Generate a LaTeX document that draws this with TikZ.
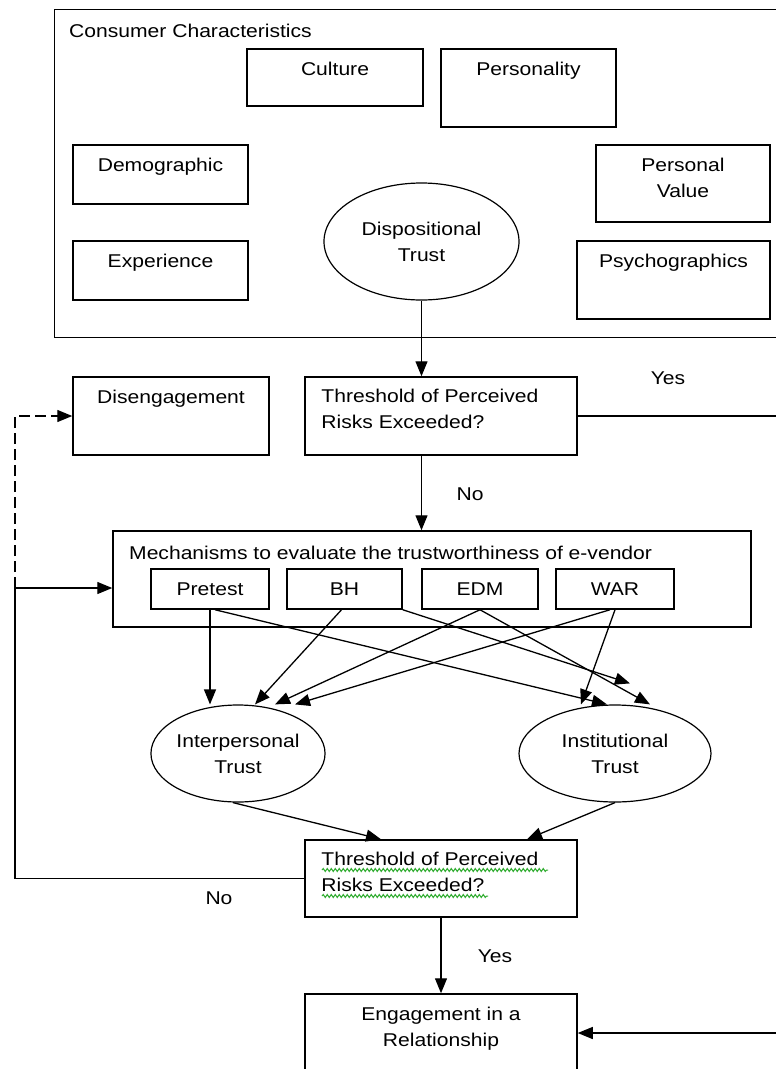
\documentclass[tikz,border=0pt]{standalone}
\usepackage{fontspec}
\setmainfont{Liberation Sans}[FakeStretch=1.14]
\usetikzlibrary{arrows.meta,shapes.geometric,decorations.pathmorphing}
\begin{document}
\begin{tikzpicture}[x=1pt,y=-1pt,
  font=\fontsize{18.5}{26}\selectfont,
  every node/.style={inner sep=0pt},
  box/.style={draw, line width=1.5pt, rectangle},
  oval/.style={draw, line width=1.2pt, ellipse},
  ttl/.style={label={[anchor=north,yshift=-14pt,align=center,inner sep=0pt]north:#1}},
  tip/.style={-{Triangle[length=15pt,width=12pt]}},
  arr/.style={line width=1.3pt, tip},
  wire/.style={line width=1.4pt},
  feedback/.style={line width=1.4pt, dash pattern=on 11pt off 5pt, tip},
  spell/.style={draw={rgb,1:red,0.2;green,0.68;blue,0.2}, line width=1pt, decorate,
    decoration={snake, amplitude=1.5pt, segment length=4pt}}
]
\useasboundingbox (0,0) rectangle (776,1069);

% consumer characteristics panel
\node[box, minimum width=735.5, minimum height=328.4] (cc) at (422.25,173.5) {};
\node[anchor=north west] (cctitle) at (69,24) {Consumer Characteristics};
\node[box, minimum width=176, minimum height=57, ttl=Culture] (cult) at (335,77.5) {};
\node[box, minimum width=175, minimum height=78, ttl=Personality] (pers) at (528.5,88) {};
\node[box, minimum width=175, minimum height=59, ttl=Demographic] (demo) at (160.5,174.5) {};
\node[box, minimum width=175, minimum height=59, ttl=Experience] (expe) at (160.5,270.5) {};
\node[box, minimum width=174, minimum height=77, ttl={Personal\\Value}] (pval) at (683,183.5) {};
\node[box, minimum width=193, minimum height=78, ttl=Psychographics] (psy) at (673.5,280) {};
\node[oval, minimum width=195, minimum height=117, align=center] (disp) at (421.5,241.5) {Dispositional\\Trust};

% first risk check
\node[box, minimum width=196, minimum height=78, ttl=Disengagement] (dis) at (171,416) {};
\node[box, minimum width=272, minimum height=78] (t1) at (441,416) {};
\node[anchor=north west, align=left] (t1txt) at ([xshift=17pt,yshift=-13pt]t1.north west) {Threshold of Perceived\\Risks Exceeded?};

% evaluation mechanisms
\node[box, minimum width=638, minimum height=96] (mech) at (432,579) {};
\node[anchor=north west] (mechtxt) at (129,546) {Mechanisms to evaluate the trustworthiness of e-vendor};
\node[box, minimum width=118, minimum height=40] (pre) at (210,589) {Pretest};
\node[box, minimum width=115, minimum height=40] (bh) at (344.5,589) {BH};
\node[box, minimum width=116, minimum height=40] (edm) at (480,589) {EDM};
\node[box, minimum width=118, minimum height=40] (war) at (615,589) {WAR};

% trust types
\node[oval, minimum width=174, minimum height=97, align=center] (inter) at (238,753.5) {Interpersonal\\Trust};
\node[oval, minimum width=192, minimum height=97, align=center] (inst) at (615,753.5) {Institutional\\Trust};

% second risk check and outcome
\node[box, minimum width=272, minimum height=77] (t2) at (441,878.5) {};
\node[anchor=north west, align=left] (t2txt) at ([xshift=17pt,yshift=-13pt]t2.north west) {Threshold of Perceived\\Risks Exceeded?};
\draw[spell] (322,870) -- (548,870);
\draw[spell] (322,896) -- (488,896);
\node[box, minimum width=272, minimum height=78, ttl={Engagement in a\\Relationship}] (eng) at (441,1033) {};

% branch labels
\node (yes1) at (668,378) {Yes};
\node (no1) at (470,494) {No};
\node (no2) at (219,898) {No};
\node (yes2) at (495,956) {Yes};

% helper points on the outer routing lines
\coordinate (rim) at (800,0);
\coordinate (fb) at (15,588);

% main flow
\draw[arr] (disp.south) -- (disp.south |- t1.north);
\draw[arr] (disp.south |- t1.south) -- (disp.south |- mech.north);
\draw[arr] (t1.east) -- (t1.east -| rim) |- (eng.east);
\draw[arr] (t2.south) -- (eng.north);

% feedback loop
\draw[wire, tip] (t2.west) -| (fb) -- (fb -| mech.west);
\draw[feedback] (fb) |- (dis.west);

% mechanisms to trust
\draw[arr] (pre.south) -- (pre.south |- inter.north);
\draw[arr] ([xshift=5pt]pre.south) -- ([xshift=-8pt]inst.north);
\draw[arr] ([xshift=-3pt]bh.south) -- ([xshift=17pt]inter.north);
\draw[arr] (bh.south east) -- ([xshift=15pt,yshift=21pt]inst.north);
\draw[arr] (edm.south) -- ([xshift=37pt]inter.north);
\draw[arr] (edm.south) -- ([xshift=35pt]inst.north);
\draw[arr] ([xshift=-5pt]war.south) -- ([xshift=57pt]inter.north);
\draw[arr] (war.south) -- ([xshift=-34pt]inst.north);

% trust to second check
\draw[arr] ([xshift=-5pt]inter.south) -- ([xshift=-60pt]t2.north);
\draw[arr] (inst.south) -- ([xshift=86pt]t2.north);
\end{tikzpicture}
\end{document}
